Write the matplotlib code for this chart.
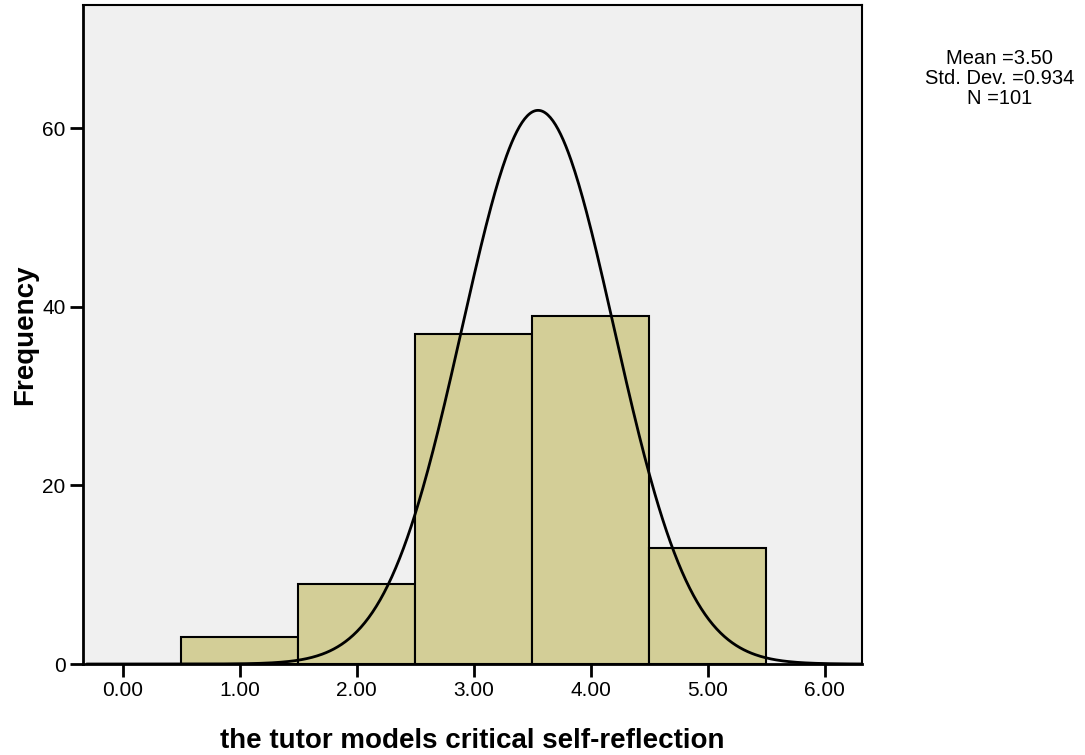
import numpy as np
import matplotlib
matplotlib.use("Agg")
from matplotlib import pyplot as plt

plt.rcParams['font.family'] = ['Liberation Sans', 'DejaVu Sans']

# histogram data (bins centred on the scale points)
bin_centers = [1, 2, 3, 4, 5]
frequencies = [3, 9, 37, 39, 13]
x_ticks = [0, 1, 2, 3, 4, 5, 6]
x_tick_labels = ["0.00", "1.00", "2.00", "3.00", "4.00", "5.00", "6.00"]
y_ticks = [0, 20, 40, 60]

# summary stats shown in the corner
mean_val = 3.50
std_val = 0.934
n_val = 101

# normal curve as drawn on the chart
curve_center = 3.55
curve_sd = 0.65
curve_peak = 62.0

fig = plt.figure(figsize=(10.85, 7.55), dpi=100)
ax = fig.add_axes([0.0765, 0.1205, 0.718, 0.8729])
ax.set_facecolor('#f0f0f0')

ax.bar(bin_centers, frequencies, width=1.0, color='#d3ce97',
       edgecolor='black', linewidth=1.5, zorder=2)

xs = np.linspace(-0.3, 6.3, 600)
ys = curve_peak * np.exp(-0.5 * ((xs - curve_center) / curve_sd) ** 2)
ax.plot(xs, ys, color='black', linewidth=2, zorder=3)

ax.set_xlim(-0.339, 6.319)
ax.set_ylim(0, 73.8)
ax.set_xticks(x_ticks)
ax.set_xticklabels(x_tick_labels)
ax.set_yticks(y_ticks)
ax.tick_params(axis='both', direction='out', length=9.5, width=2,
               labelsize=15, pad=3)
for s in ax.spines.values():
    s.set_linewidth(1.5)
ax.spines['bottom'].set_linewidth(2)
ax.spines['left'].set_linewidth(2)

ax.set_xlabel("the tutor models critical self-reflection", fontsize=20,
              fontweight='bold', labelpad=20)
ax.set_ylabel("Frequency", fontsize=20, fontweight='bold', labelpad=3)

fig.text(0.921, 0.935,
         "Mean =%.2f\nStd. Dev. =%.3f\nN =%d" % (mean_val, std_val, n_val),
         ha='center', va='top', fontsize=14.5, linespacing=1.08)

fig.savefig("out.png", dpi=100)
